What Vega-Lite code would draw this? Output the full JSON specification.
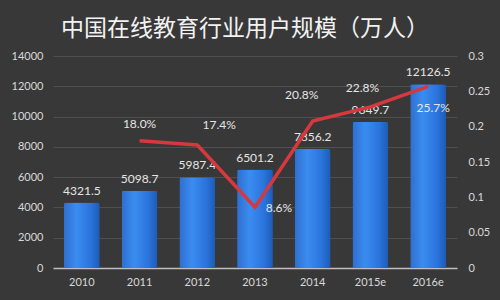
{
  "$schema": "https://vega.github.io/schema/vega-lite/v6.json",
  "width": 404,
  "height": 212,
  "autosize": {"type": "none"},
  "padding": {"left": 53, "top": 56, "right": 43, "bottom": 32},
  "background": "#383838",
  "config": {
    "view": {"stroke": null},
    "font": "Lato",
    "axis": {"labelFont": "Lato", "labelColor": "#d9d9d9", "labelFontSize": 11, "ticks": false, "title": null}
  },
  "title": {
    "text": "中国在线教育行业用户规模（万人）",
    "font": "Noto Sans CJK SC",
    "fontSize": 23,
    "fontWeight": "normal",
    "color": "#f2f2f2",
    "anchor": "middle",
    "frame": "group",
    "dx": -10,
    "offset": 9
  },
  "data": {
    "values": [
      {"year": "2010", "users": 4321.5, "rate": null, "ulabel": "4321.5", "rlabel": ""},
      {"year": "2011", "users": 5098.7, "rate": 0.18, "ulabel": "5098.7", "rlabel": "18.0%"},
      {"year": "2012", "users": 5987.4, "rate": 0.174, "ulabel": "5987.4", "rlabel": "17.4%"},
      {"year": "2013", "users": 6501.2, "rate": 0.086, "ulabel": "6501.2", "rlabel": "8.6%"},
      {"year": "2014", "users": 7856.2, "rate": 0.208, "ulabel": "7856.2", "rlabel": "20.8%"},
      {"year": "2015e", "users": 9649.7, "rate": 0.228, "ulabel": "9649.7", "rlabel": "22.8%"},
      {"year": "2016e", "users": 12126.5, "rate": 0.257, "ulabel": "12126.5", "rlabel": "25.7%"}
    ]
  },
  "encoding": {
    "x": {
      "field": "year", "type": "nominal", "sort": null,
      "scale": {"paddingInner": 0.38, "paddingOuter": 0.19},
      "axis": {"labelAngle": 0, "labelPadding": 8, "domainColor": "#bfbfbf", "domainWidth": 1.5, "grid": false}
    }
  },
  "layer": [
    {
      "encoding": {
        "y": {
          "field": "users", "type": "quantitative",
          "scale": {"domain": [0, 14000]},
          "axis": {"orient": "left", "values": [0, 2000, 4000, 6000, 8000, 10000, 12000, 14000], "format": "d", "grid": true, "gridColor": "#4f4f4f", "gridWidth": 1, "domain": false, "labelPadding": 10}
        }
      },
      "layer": [
        {
          "mark": {
            "type": "bar",
            "cornerRadiusTopLeft": 2, "cornerRadiusTopRight": 2,
            "fill": {"gradient": "linear", "x1": 0, "x2": 1, "y1": 0, "y2": 0,
              "stops": [{"offset": 0, "color": "#2e6fcf"}, {"offset": 0.35, "color": "#3b8cf0"}, {"offset": 0.75, "color": "#2a74dc"}, {"offset": 1, "color": "#1d5bb5"}]}
          }
        },
        {
          "mark": {"type": "text", "baseline": "bottom", "dy": -5, "fontSize": 12, "color": "#e6e6e6", "font": "Lato"},
          "encoding": {"text": {"field": "ulabel"}}
        }
      ]
    },
    {
      "transform": [{"filter": "isValid(datum.rate)"}],
      "encoding": {
        "y": {
          "field": "rate", "type": "quantitative",
          "scale": {"domain": [0, 0.3]},
          "axis": {"orient": "right", "values": [0, 0.05, 0.1, 0.15, 0.2, 0.25, 0.3], "format": "~g", "grid": false, "domain": false, "labelPadding": 11}
        }
      },
      "layer": [
        {"mark": {"type": "line", "color": "#d6383d", "strokeWidth": 3.5}},
        {
          "transform": [{"filter": "datum.year == '2011'"}],
          "mark": {"type": "text", "dy": -17, "fontSize": 12, "color": "#e6e6e6"},
          "encoding": {"text": {"field": "rlabel"}}
        },
        {
          "transform": [{"filter": "datum.year == '2012'"}],
          "mark": {"type": "text", "dx": 22, "dy": -20, "fontSize": 12, "color": "#e6e6e6"},
          "encoding": {"text": {"field": "rlabel"}}
        },
        {
          "transform": [{"filter": "datum.year == '2013'"}],
          "mark": {"type": "text", "dx": 24, "dy": 1, "fontSize": 12, "color": "#e6e6e6"},
          "encoding": {"text": {"field": "rlabel"}}
        },
        {
          "transform": [{"filter": "datum.year == '2014'"}],
          "mark": {"type": "text", "dx": -11, "dy": -26, "fontSize": 12, "color": "#e6e6e6"},
          "encoding": {"text": {"field": "rlabel"}}
        },
        {
          "transform": [{"filter": "datum.year == '2015e'"}],
          "mark": {"type": "text", "dx": -8, "dy": -19, "fontSize": 12, "color": "#e6e6e6"},
          "encoding": {"text": {"field": "rlabel"}}
        },
        {
          "transform": [{"filter": "datum.year == '2016e'"}],
          "mark": {"type": "text", "dx": 5, "dy": 22, "fontSize": 12, "color": "#e6e6e6"},
          "encoding": {"text": {"field": "rlabel"}}
        }
      ]
    }
  ],
  "resolve": {"scale": {"y": "independent"}}
}
